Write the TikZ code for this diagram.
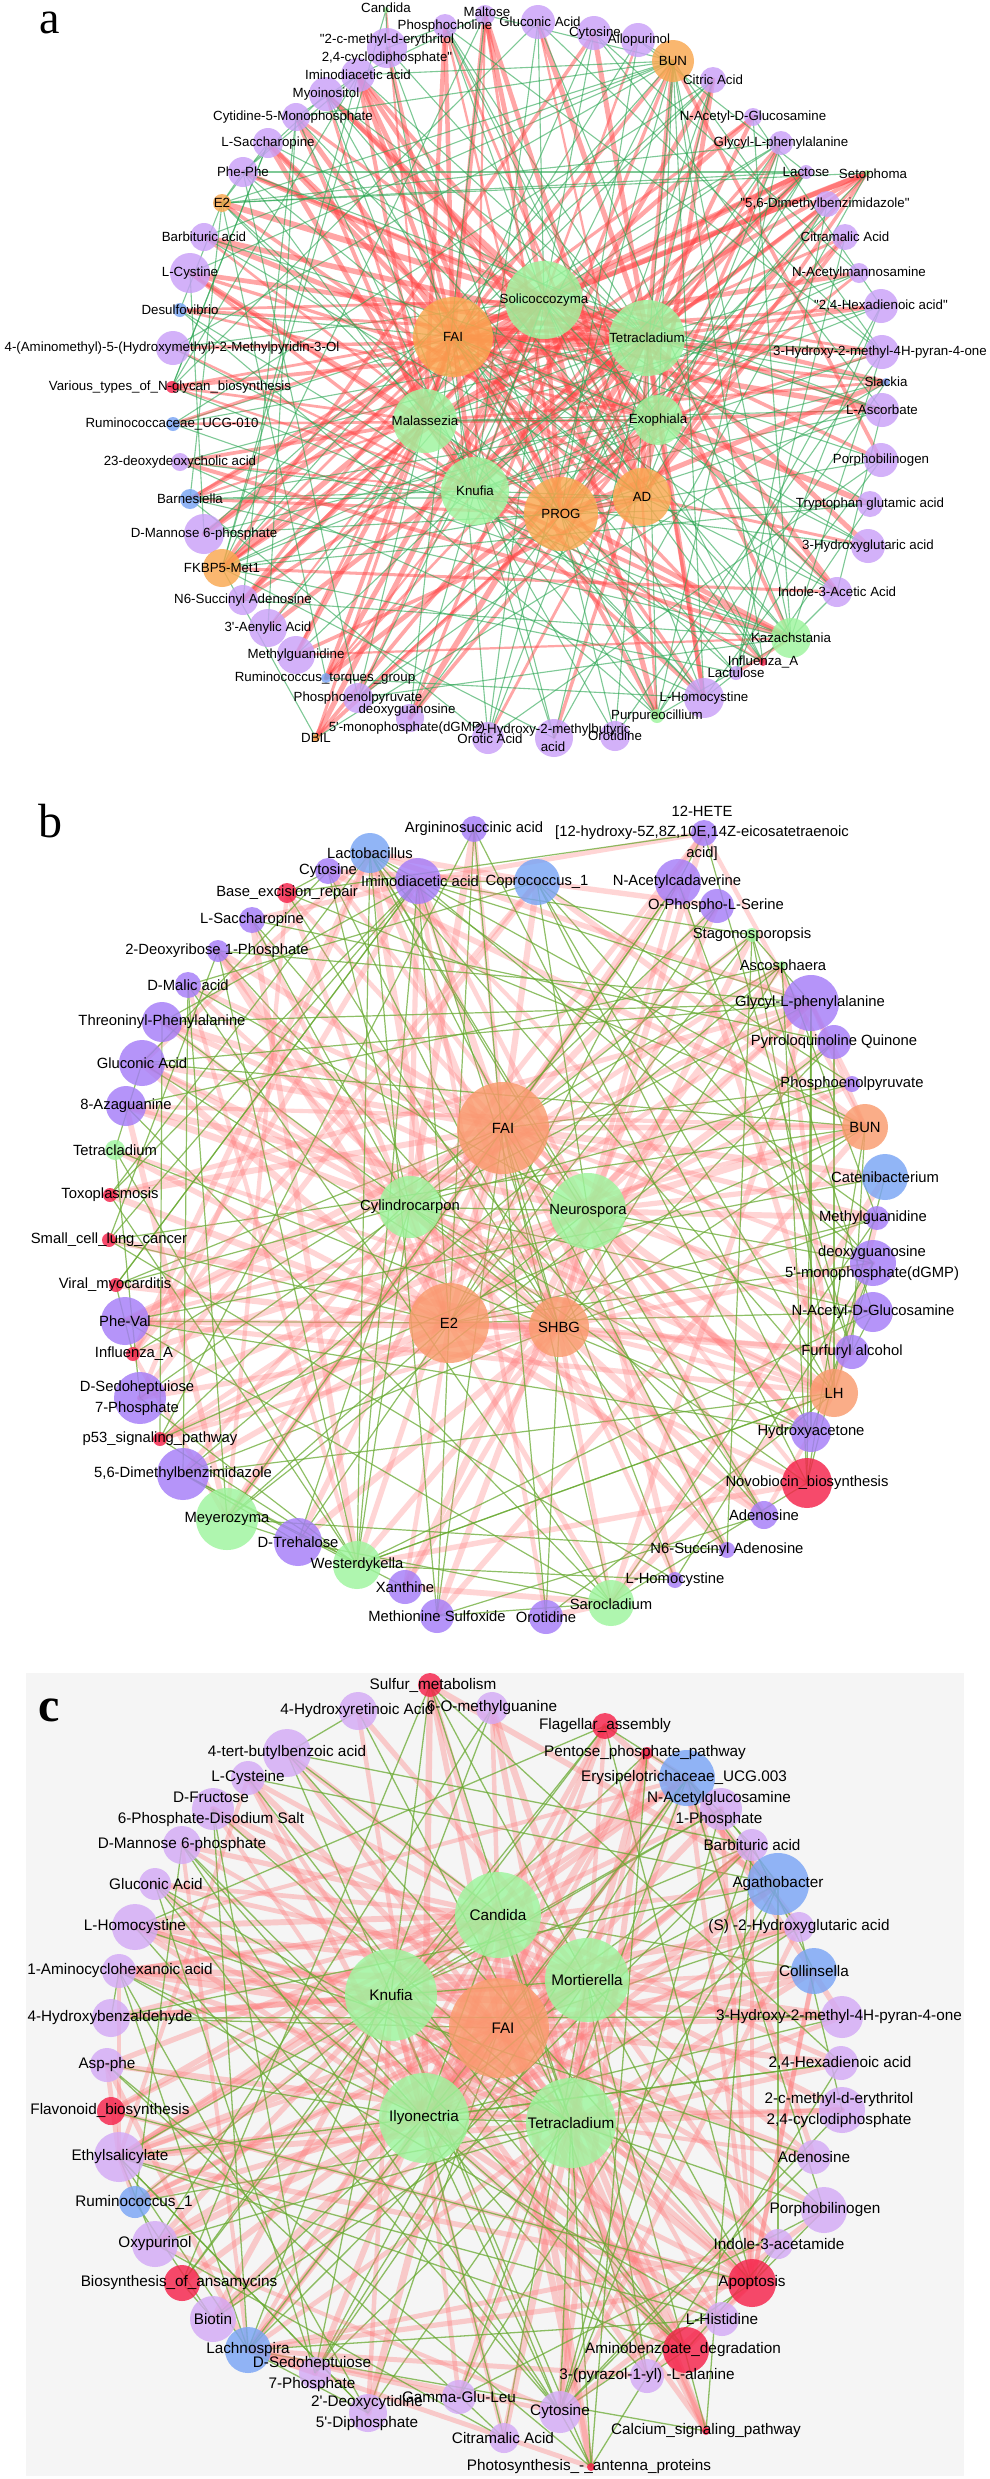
\documentclass[tikz,border=0pt]{standalone}
\usepackage{fontspec}
\newfontfamily\labfont{Liberation Sans}
\newfontfamily\panelfont{Liberation Serif}
\definecolor{purA}{RGB}{202,160,248}
\definecolor{purB}{RGB}{165,125,248}
\definecolor{purC}{RGB}{212,170,246}
\definecolor{grn}{RGB}{158,245,158}
\definecolor{orA}{RGB}{250,168,80}
\definecolor{orB}{RGB}{250,155,110}
\definecolor{blu}{RGB}{122,165,245}
\definecolor{rd}{RGB}{245,35,75}
\definecolor{eRedA}{RGB}{255,70,70}
\definecolor{eGrnA}{RGB}{40,165,80}
\definecolor{eRedB}{RGB}{255,125,125}
\definecolor{eGrnB}{RGB}{105,170,50}
\definecolor{bgC}{RGB}{245,245,245}
\pgfdeclarelayer{bg}\pgfdeclarelayer{edges}\pgfdeclarelayer{labels}
\pgfsetlayers{bg,edges,main,labels}
\newcommand{\pnodet}[8]{%
 \node[nd, fill=#5, minimum size=#4*2pt] (#1) at (#2,#3) {};%
 \begin{pgfonlayer}{labels}\node[lab] at (#6,#7) {#8};\end{pgfonlayer}}
\newcommand{\pnode}[6]{\pnodet{#1}{#2}{#3}{#4}{#5}{#2}{#3}{#6}}
% prefix, hubs, N, p(red), p(red+green), red style, green style, wmin, wrange
\newcommand{\hubedges}[9]{%
 \foreach \h in {#2}{\foreach \i in {1,...,#3}{%
   \pgfmathsetmacro{\rr}{rnd}\pgfmathsetmacro{\ww}{#8+#9*rnd}%
   \ifdim\rr pt<#4pt \draw[#6, line width=\ww pt] (\h.center) -- (#1\i.center);%
   \else\ifdim\rr pt<#5pt \draw[#7] (\h.center) -- (#1\i.center);\fi\fi}}}
% prefix, N, count, style
\newcommand{\periedges}[4]{%
 \foreach \i in {1,...,#2}{\foreach \k in {1,...,#3}{%
   \pgfmathrandominteger{\j}{1}{#2}%
   \ifnum\j=\i\relax\else\draw[#4] (#1\i.center) -- (#1\j.center);\fi}}}
\begin{document}
\begin{tikzpicture}[x=1pt,y=-1pt,
  nd/.style={circle, draw=none, inner sep=0pt, fill opacity=0.82},
  lab/.style={font=\labfont\fontsize{13.3}{18}\selectfont, align=center, inner sep=0pt, text=black},
  plab/.style={font=\panelfont\fontsize{46}{46}\selectfont, anchor=base, inner sep=0pt},
  eA/.style={draw=eRedA, draw opacity=0.48, line cap=round},
  gA/.style={draw=eGrnA, draw opacity=0.6, line width=1.1pt},
  eB/.style={draw=eRedB, draw opacity=0.32, line cap=round},
  gB/.style={draw=eGrnB, draw opacity=0.75, line width=1.2pt},
  eC/.style={draw=eRedB, draw opacity=0.36, line cap=round},
  gC/.style={draw=eGrnB, draw opacity=0.75, line width=1.3pt}]
\useasboundingbox (0,0) rectangle (990,2479);
\begin{pgfonlayer}{bg}
\fill[white] (0,0) rectangle (990,2479);
\fill[bgC] (26,1673) rectangle (964,2476);
\end{pgfonlayer}
\pgfmathsetseed{11}
% ================= panel a =================
\node[plab] (labA) at (50,33) {a};
\pnodet{a1}{386}{10}{3}{grn}{386}{8}{Candida}
\pnodet{a2}{485}{15}{10}{purA}{487}{12}{Maltose}
\pnode{a3}{445}{26}{12}{purA}{Phosphocholine}
\pnodet{a4}{387}{48}{20}{purA}{387}{49}{"2-c-methyl-d-erythritol\\2,4-cyclodiphosphate"}
\pnode{a5}{358}{75}{17}{purA}{Iminodiacetic acid}
\pnode{a6}{326}{94}{17}{purA}{Myoinositol}
\pnodet{a7}{296}{117}{14}{purA}{293}{117}{Cytidine-5-Monophosphate}
\pnode{a8}{268}{143}{15}{purA}{L-Saccharopine}
\pnode{a9}{243}{172}{15}{purA}{Phe-Phe}
\pnode{a10}{222}{203}{9}{orA}{E2}
\pnode{a11}{204}{237}{14}{purA}{Barbituric acid}
\pnode{a12}{190}{273}{20}{purA}{L-Cystine}
\pnode{a13}{180}{310}{7}{blu}{Desulfovibrio}
\pnodet{a14}{173}{348}{17}{purA}{172}{348}{4-(Aminomethyl)-5-(Hydroxymethyl)-2-Methylpyridin-3-Ol}
\pnodet{a15}{172}{387}{6}{rd}{170}{387}{Various\_types\_of\_N-glycan\_biosynthesis}
\pnodet{a16}{173}{424}{7}{blu}{172}{424}{Ruminococcaceae\_UCG-010}
\pnode{a17}{180}{462}{9}{purA}{23-deoxydeoxycholic acid}
\pnode{a18}{190}{499}{10}{blu}{Barnesiella}
\pnode{a19}{204}{534}{20}{purA}{D-Mannose 6-phosphate}
\pnode{a20}{222}{568}{19}{orA}{FKBP5-Met1}
\pnode{a21}{243}{600}{15}{purA}{N6-Succinyl Adenosine}
\pnode{a22}{268}{628}{19}{purA}{3'-Aenylic Acid}
\pnode{a23}{296}{655}{19}{purA}{Methylguanidine}
\pnodet{a24}{326}{678}{5}{blu}{325}{678}{Ruminococcus\_torques\_group}
\pnode{a25}{358}{698}{15}{purA}{Phosphoenolpyruvate}
\pnode{a26}{316}{738}{4}{orA}{DBIL}
\pnodet{a27}{410}{718}{14}{purA}{407}{719}{deoxyguanosine\\5'-monophosphate(dGMP)}
\pnodet{a28}{488}{738}{16}{purA}{490}{739}{Orotic Acid}
\pnodet{a29}{554}{738}{19}{purA}{553}{738}{2-Hydroxy-2-methylbutyric\\acid}
\pnode{a30}{615}{736}{15}{purA}{Orotidine}
\pnode{a31}{657}{716}{7}{grn}{Purpureocillium}
\pnode{a32}{704}{698}{20}{purA}{L-Homocystine}
\pnode{a33}{736}{673}{7}{purA}{Lactulose}
\pnode{a34}{763}{662}{4}{rd}{Influenza\_A}
\pnode{a35}{791}{638}{20}{grn}{Kazachstania}
\pnode{a36}{837}{592}{15}{purA}{Indole-3-Acetic Acid}
\pnode{a37}{868}{546}{17}{purA}{3-Hydroxyglutaric acid}
\pnode{a38}{870}{504}{13}{purA}{Tryptophan glutamic acid}
\pnode{a39}{881}{460}{17}{purA}{Porphobilinogen}
\pnode{a40}{882}{410}{17}{purA}{L-Ascorbate}
\pnode{a41}{886}{382}{4}{blu}{Slackia}
\pnodet{a42}{882}{352}{17}{purA}{880}{352}{3-Hydroxy-2-methyl-4H-pyran-4-one}
\pnode{a43}{881}{306}{17}{purA}{"2,4-Hexadienoic acid"}
\pnode{a44}{859}{273}{10}{purA}{N-Acetylmannosamine}
\pnode{a45}{845}{237}{13}{purA}{Citramalic Acid}
\pnodet{a46}{827}{204}{13}{purA}{825}{204}{"5,6-Dimethylbenzimidazole"}
\pnodet{a47}{867}{173}{3}{grn}{873}{175}{Setophoma}
\pnode{a48}{806}{172}{7}{purA}{Lactose}
\pnode{a49}{781}{143}{12}{purA}{Glycyl-L-phenylalanine}
\pnode{a50}{753}{117}{9}{purA}{N-Acetyl-D-Glucosamine}
\pnode{a51}{713}{80}{13}{purA}{Citric Acid}
\pnode{a52}{673}{61}{21}{orA}{BUN}
\pnodet{a53}{638}{40}{17}{purA}{639}{40}{Allopurinol}
\pnodet{a54}{594}{33}{17}{purA}{595}{33}{Cytosine}
\pnodet{a55}{538}{22}{17}{purA}{540}{22}{Gluconic Acid}
\pnode{aFAI}{453}{337}{40}{orA}{FAI}
\pnode{aSol}{544}{300}{39}{grn}{Solicoccozyma}
\pnode{aTet}{647}{338}{38}{grn}{Tetracladium}
\pnode{aMal}{425}{421}{32}{grn}{Malassezia}
\pnode{aKnu}{475}{491}{34}{grn}{Knufia}
\pnode{aExo}{658}{420}{25}{grn}{Exophiala}
\pnode{aPROG}{561}{514}{37}{orA}{PROG}
\pnode{aAD}{642}{497}{29}{orA}{AD}
\begin{pgfonlayer}{edges}
\hubedges{a}{aFAI,aSol,aTet}{55}{0.42}{0.62}{eA}{gA}{2.5}{3.5}
\hubedges{a}{aMal,aKnu,aExo,aPROG,aAD}{55}{0.26}{0.44}{eA}{gA}{2}{3}
\hubedges{a}{a52,a10,a20,a35}{55}{0.04}{0.22}{eA}{gA}{2}{2}
\periedges{a}{55}{1}{gA}
\foreach \u/\v in {aFAI/aSol,aFAI/aTet,aSol/aTet,aFAI/aMal,aFAI/aKnu,aMal/aKnu,aTet/aExo,aPROG/aAD,aKnu/aPROG,aSol/aMal,aTet/aAD,aExo/aAD,aSol/aPROG,aTet/aPROG}
  \draw[eA, line width=4.5pt] (\u.center) -- (\v.center);
\foreach \u/\v in {aFAI/aPROG,aFAI/aAD,aFAI/aExo,aSol/aKnu,aSol/aExo,aSol/aAD,aTet/aKnu,aTet/aMal,aMal/aPROG,aKnu/aAD,aMal/aExo,aKnu/aExo}
  \draw[gA] (\u.center) -- (\v.center);
\end{pgfonlayer}
% ================= panel b =================
\begin{scope}[lab/.style={font=\labfont\fontsize{14.8}{20.5}\selectfont, align=center, inner sep=0pt, text=black}]
\node[plab, font=\panelfont\fontsize{48}{48}\selectfont] (labB) at (50,837) {b};
\pnode{b1}{474}{829}{13}{purB}{Argininosuccinic acid}
\pnode{b2}{370}{853}{20}{blu}{Lactobacillus}
\pnode{b3}{328}{871}{13}{purB}{Cytosine}
\pnodet{b4}{418}{881}{23}{purB}{420}{881}{Iminodiacetic acid}
\pnode{b5}{287}{893}{10}{rd}{Base\_excision\_repair}
\pnode{b6}{252}{920}{13}{purB}{L-Saccharopine}
\pnodet{b7}{218}{951}{11}{purB}{217}{951}{2-Deoxyribose 1-Phosphate}
\pnode{b8}{188}{985}{13}{purB}{D-Malic acid}
\pnode{b9}{162}{1022}{20}{purB}{Threoninyl-Phenylalanine}
\pnode{b10}{142}{1063}{23}{purB}{Gluconic Acid}
\pnode{b11}{126}{1106}{20}{purB}{8-Azaguanine}
\pnode{b12}{115}{1150}{10}{grn}{Tetracladium}
\pnode{b13}{110}{1195}{7}{rd}{Toxoplasmosis}
\pnode{b14}{109}{1240}{7}{rd}{Small\_cell\_lung\_cancer}
\pnodet{b15}{116}{1285}{7}{rd}{115}{1285}{Viral\_myocarditis}
\pnode{b16}{125}{1321}{24}{purB}{Phe-Val}
\pnodet{b17}{133}{1354}{7}{rd}{134}{1354}{Influenza\_A}
\pnodet{b18}{140}{1398}{26}{purB}{137}{1398}{D-Sedoheptuiose\\7-Phosphate}
\pnode{b19}{160}{1439}{7}{rd}{p53\_signaling\_pathway}
\pnode{b20}{183}{1474}{26}{purB}{5,6-Dimethylbenzimidazole}
\pnode{b21}{227}{1519}{31}{grn}{Meyerozyma}
\pnode{b22}{298}{1542}{24}{purB}{D-Trehalose}
\pnode{b23}{357}{1565}{24}{grn}{Westerdykella}
\pnode{b24}{405}{1587}{17}{purB}{Xanthine}
\pnode{b25}{437}{1616}{17}{purB}{Methionine Sulfoxide}
\pnode{b26}{546}{1617}{17}{purB}{Orotidine}
\pnodet{b27}{611}{1603}{23}{grn}{611}{1604}{Sarocladium}
\pnode{b28}{675}{1580}{8}{purB}{L-Homocystine}
\pnode{b29}{727}{1550}{8}{purB}{N6-Succinyl Adenosine}
\pnode{b30}{764}{1515}{14}{purB}{Adenosine}
\pnode{b31}{807}{1483}{25}{rd}{Novobiocin\_biosynthesis}
\pnode{b32}{811}{1432}{20}{purB}{Hydroxyacetone}
\pnode{b33}{834}{1393}{24}{orB}{LH}
\pnode{b34}{852}{1352}{17}{purB}{Furfuryl alcohol}
\pnode{b35}{873}{1312}{20}{purB}{N-Acetyl-D-Glucosamine}
\pnodet{b36}{873}{1263}{23}{purB}{872}{1263}{deoxyguanosine\\5'-monophosphate(dGMP)}
\pnodet{b37}{877}{1218}{12}{purB}{873}{1218}{Methylguanidine}
\pnode{b38}{885}{1177}{23}{blu}{Catenibacterium}
\pnode{b39}{865}{1127}{23}{orB}{BUN}
\pnode{b40}{852}{1084}{8}{purB}{Phosphoenolpyruvate}
\pnode{b41}{834}{1042}{17}{purB}{Pyrroloquinoline Quinone}
\pnodet{b42}{811}{1003}{28}{purB}{810}{1003}{Glycyl-L-phenylalanine}
\pnodet{b43}{782}{965}{4}{grn}{783}{967}{Ascosphaera}
\pnode{b44}{752}{935}{7}{grn}{Stagonosporopsis}
\pnodet{b45}{717}{906}{17}{purB}{716}{906}{O-Phospho-L-Serine}
\pnodet{b46}{678}{882}{23}{purB}{677}{882}{N-Acetylcadaverine}
\pnodet{b47}{704}{833}{13}{purB}{702}{833}{12-HETE\\{}[12-hydroxy-5Z,8Z,10E,14Z-eicosatetraenoic\\acid]}
\pnode{b48}{537}{882}{23}{blu}{Coprococcus\_1}
\pnode{bFAI}{503}{1128}{46}{orB}{FAI}
\pnode{bE2}{449}{1323}{40}{orB}{E2}
\pnode{bSHBG}{559}{1327}{30}{orB}{SHBG}
\pnode{bCyl}{410}{1207}{31}{grn}{Cylindrocarpon}
\pnode{bNeu}{588}{1211}{38}{grn}{Neurospora}
\begin{pgfonlayer}{edges}
\hubedges{b}{bFAI,bE2,bSHBG,bCyl,bNeu}{48}{0.4}{0.6}{eB}{gB}{4}{3}
\hubedges{b}{b33,b39,b21,b23,b27,b2,b4,b48,b42}{48}{0.12}{0.24}{eB}{gB}{4}{2}
\periedges{b}{48}{1}{gB}
\foreach \u/\v in {bFAI/bE2,bFAI/bCyl,bFAI/bNeu,bE2/bSHBG,bCyl/bE2,bNeu/bSHBG}
  \draw[eB, line width=6pt] (\u.center) -- (\v.center);
\foreach \u/\v in {bFAI/bSHBG,bE2/bNeu,bCyl/bNeu,bCyl/bSHBG}
  \draw[gB] (\u.center) -- (\v.center);
\end{pgfonlayer}
\end{scope}
% ================= panel c =================
\begin{scope}[lab/.style={font=\labfont\fontsize{15.3}{21}\selectfont, align=center, inner sep=0pt, text=black}]
\node[plab, font=\panelfont\bfseries\fontsize{48}{48}\selectfont] (labC) at (49,1721) {c};
\pnodet{c1}{430}{1685}{12}{rd}{433}{1685}{Sulfur\_metabolism}
\pnode{c2}{492}{1708}{16}{purC}{6-O-methylguanine}
\pnode{c3}{605}{1726}{13}{rd}{Flagellar\_assembly}
\pnodet{c4}{647}{1753}{6}{rd}{645}{1753}{Pentose\_phosphate\_pathway}
\pnodet{c5}{687}{1778}{28}{blu}{684}{1778}{Erysipelotrichaceae\_UCG.003}
\pnodet{c6}{721}{1809}{21}{purC}{719}{1809}{N-Acetylglucosamine\\1-Phosphate}
\pnode{c7}{752}{1845}{16}{purC}{Barbituric acid}
\pnode{c8}{778}{1884}{31}{blu}{Agathobacter}
\pnode{c9}{799}{1927}{15}{purC}{(S) -2-Hydroxyglutaric acid}
\pnode{c10}{814}{1971}{23}{blu}{Collinsella}
\pnodet{c11}{842}{2017}{21}{purC}{839}{2017}{3-Hydroxy-2-methyl-4H-pyran-4-one}
\pnodet{c12}{841}{2063}{17}{purC}{840}{2063}{2,4-Hexadienoic acid}
\pnodet{c13}{842}{2110}{23}{purC}{839}{2110}{2-c-methyl-d-erythritol\\2,4-cyclodiphosphate}
\pnode{c14}{814}{2157}{17}{purC}{Adenosine}
\pnodet{c15}{824}{2210}{23}{purC}{825}{2210}{Porphobilinogen}
\pnodet{c16}{778}{2244}{15}{purC}{779}{2244}{Indole-3-acetamide}
\pnode{c17}{752}{2283}{24}{rd}{Apoptosis}
\pnode{c18}{722}{2319}{17}{purC}{L-Histidine}
\pnodet{c19}{686}{2350}{23}{rd}{683}{2350}{Aminobenzoate\_degradation}
\pnode{c20}{647}{2376}{17}{purC}{3-(pyrazol-1-yl) -L-alanine}
\pnode{c21}{706}{2431}{4}{rd}{Calcium\_signaling\_pathway}
\pnodet{c22}{591}{2467}{4}{rd}{589}{2467}{Photosynthesis\_-\_antenna\_proteins}
\pnode{c23}{560}{2412}{21}{purC}{Cytosine}
\pnodet{c24}{504}{2438}{15}{purC}{503}{2438}{Citramalic Acid}
\pnode{c25}{459}{2397}{17}{purC}{Gamma-Glu-Leu}
\pnodet{c26}{368}{2413}{19}{purC}{367}{2413}{2'-Deoxycytidine\\5'-Diphosphate}
\pnodet{c27}{315}{2373}{16}{purC}{312}{2374}{D-Sedoheptuiose\\7-Phosphate}
\pnode{c28}{248}{2350}{23}{blu}{Lachnospira}
\pnode{c29}{213}{2319}{23}{purC}{Biotin}
\pnodet{c30}{182}{2283}{18}{rd}{179}{2283}{Biosynthesis\_of\_ansamycins}
\pnode{c31}{155}{2244}{23}{purC}{Oxypurinol}
\pnodet{c32}{135}{2202}{16}{blu}{134}{2202}{Ruminococcus\_1}
\pnodet{c33}{119}{2157}{25}{purC}{120}{2157}{Ethylsalicylate}
\pnodet{c34}{111}{2111}{14}{rd}{110}{2111}{Flavonoid\_biosynthesis}
\pnode{c35}{107}{2065}{17}{purC}{Asp-phe}
\pnodet{c36}{111}{2018}{19}{purC}{110}{2018}{4-Hydroxybenzaldehyde}
\pnodet{c37}{119}{1971}{17}{purC}{120}{1971}{1-Aminocyclohexanoic acid}
\pnode{c38}{135}{1927}{23}{purC}{L-Homocystine}
\pnodet{c39}{155}{1884}{16}{purC}{156}{1884}{Gluconic Acid}
\pnode{c40}{182}{1845}{19}{purC}{D-Mannose 6-phosphate}
\pnodet{c41}{213}{1809}{21}{purC}{211}{1809}{D-Fructose\\6-Phosphate-Disodium Salt}
\pnode{c42}{248}{1778}{17}{purC}{L-Cysteine}
\pnode{c43}{287}{1753}{24}{purC}{4-tert-butylbenzoic acid}
\pnodet{c44}{358}{1711}{19}{purC}{357}{1711}{4-Hydroxyretinoic Acid}
\pnodet{cFAI}{499}{2028}{50}{orB}{503}{2028}{FAI}
\pnode{cCan}{498}{1915}{43}{grn}{Candida}
\pnode{cKnu}{391}{1995}{46}{grn}{Knufia}
\pnode{cMor}{587}{1980}{42}{grn}{Mortierella}
\pnode{cIly}{424}{2118}{45}{grn}{Ilyonectria}
\pnode{cTet}{571}{2123}{45}{grn}{Tetracladium}
\begin{pgfonlayer}{edges}
\hubedges{c}{cFAI,cCan,cKnu,cMor,cIly,cTet}{44}{0.45}{0.64}{eC}{gC}{4}{3}
\hubedges{c}{c8,c5,c10,c28,c17,c33,c23}{44}{0.12}{0.24}{eC}{gC}{4}{2}
\periedges{c}{44}{1}{gC}
\foreach \u/\v in {cFAI/cCan,cFAI/cKnu,cFAI/cMor,cFAI/cIly,cFAI/cTet,cKnu/cIly,cMor/cTet,cCan/cKnu,cCan/cMor}
  \draw[eC, line width=6pt] (\u.center) -- (\v.center);
\foreach \u/\v in {cKnu/cMor,cIly/cTet,cCan/cIly,cCan/cTet,cKnu/cTet,cMor/cIly}
  \draw[gC] (\u.center) -- (\v.center);
\end{pgfonlayer}
\end{scope}
\end{tikzpicture}
\end{document}
